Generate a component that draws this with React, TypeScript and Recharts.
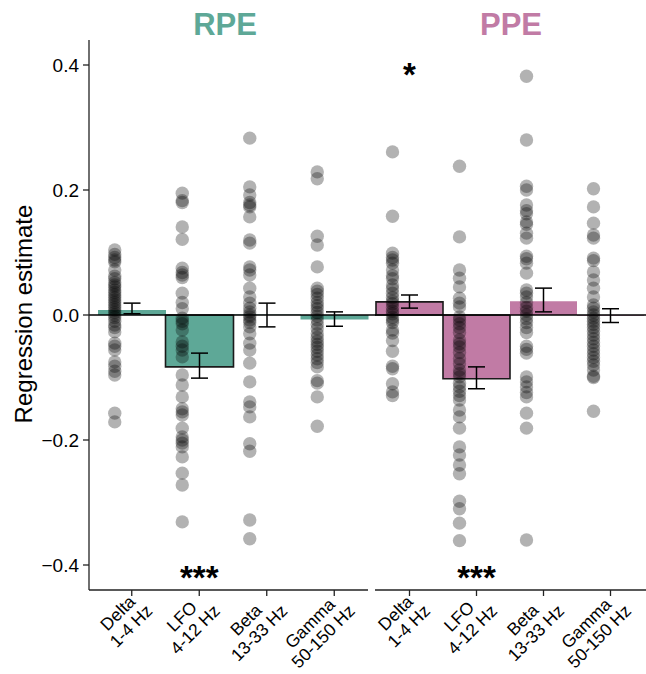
import React from 'react';
import { ComposedChart, Bar, Scatter, XAxis, YAxis, ReferenceLine, ErrorBar, Cell } from 'recharts';

const bandNames = ['Delta', 'LFO', 'Beta', 'Gamma'];
const bandRanges = ['1-4 Hz', '4-12 Hz', '13-33 Hz', '50-150 Hz'];
const yTicks = [-0.4, -0.2, 0, 0.2, 0.4];

// RPE panel
const rpeMeans = [0.008, -0.083, 0.001, -0.007];
const rpeLow = [0.002, -0.101, -0.019, -0.018];
const rpeHigh = [0.019, -0.061, 0.019, 0.005];
const rpeStars = ['', '***', '', ''];

const rpeDeltaPts = [0.104, 0.097, 0.092, 0.088, 0.085, 0.072, 0.062, 0.058, 0.052, 0.048, 0.045, 0.04, 0.036, 0.032, 0.028, 0.024, 0.02, 0.016, 0.012, 0.008, 0.004, 0.0, -0.004, -0.01, -0.016, -0.02, -0.027, -0.045, -0.05, -0.056, -0.075, -0.082, -0.09, -0.096, -0.157, -0.171];
const rpeLfoPts = [0.195, 0.183, 0.18, 0.141, 0.121, 0.075, 0.068, 0.064, 0.06, 0.035, 0.02, 0.01, -0.005, -0.01, -0.014, -0.024, -0.043, -0.05, -0.056, -0.067, -0.096, -0.112, -0.131, -0.15, -0.155, -0.16, -0.181, -0.195, -0.2, -0.205, -0.211, -0.227, -0.253, -0.272, -0.331];
const rpeBetaPts = [0.283, 0.205, 0.192, 0.18, 0.176, 0.173, 0.157, 0.12, 0.115, 0.077, 0.072, 0.064, 0.043, 0.029, 0.019, 0.011, 0.005, 0.0, -0.003, -0.008, -0.012, -0.019, -0.03, -0.045, -0.056, -0.077, -0.107, -0.139, -0.147, -0.163, -0.206, -0.218, -0.328, -0.358];
const rpeGammaPts = [0.229, 0.218, 0.126, 0.112, 0.077, 0.043, 0.038, 0.033, 0.027, 0.02, 0.015, 0.01, 0.004, -0.002, -0.008, -0.015, -0.022, -0.03, -0.036, -0.042, -0.047, -0.052, -0.058, -0.064, -0.07, -0.076, -0.083, -0.105, -0.109, -0.131, -0.178];

// PPE panel
const ppeMeans = [0.021, -0.102, 0.022, -0.001];
const ppeLow = [0.011, -0.118, 0.005, -0.012];
const ppeHigh = [0.032, -0.083, 0.043, 0.01];
const ppeStars = ['*', '***', '', ''];

const ppeDeltaPts = [0.261, 0.158, 0.099, 0.092, 0.088, 0.083, 0.072, 0.063, 0.058, 0.048, 0.042, 0.035, 0.028, 0.022, 0.018, 0.012, 0.006, 0.002, -0.004, -0.008, -0.012, -0.024, -0.029, -0.041, -0.058, -0.082, -0.086, -0.11, -0.123, -0.129];
const ppeLfoPts = [0.238, 0.125, 0.072, 0.059, 0.045, 0.027, 0.019, 0.013, -0.003, -0.008, -0.014, -0.02, -0.028, -0.04, -0.046, -0.051, -0.06, -0.07, -0.078, -0.088, -0.094, -0.099, -0.109, -0.115, -0.122, -0.129, -0.136, -0.152, -0.163, -0.181, -0.211, -0.224, -0.24, -0.254, -0.298, -0.31, -0.333, -0.361];
const ppeBetaPts = [0.382, 0.28, 0.206, 0.2, 0.176, 0.167, 0.162, 0.149, 0.145, 0.131, 0.123, 0.094, 0.09, 0.083, 0.067, 0.04, 0.035, 0.029, 0.02, 0.012, 0.006, 0.0, -0.006, -0.012, -0.02, -0.028, -0.05, -0.055, -0.061, -0.099, -0.107, -0.115, -0.124, -0.131, -0.157, -0.181, -0.36];
const ppeGammaPts = [0.202, 0.173, 0.147, 0.128, 0.123, 0.091, 0.087, 0.069, 0.056, 0.043, 0.029, 0.016, 0.011, 0.005, 0.0, -0.005, -0.01, -0.015, -0.02, -0.026, -0.032, -0.038, -0.044, -0.05, -0.056, -0.062, -0.068, -0.074, -0.08, -0.088, -0.098, -0.1, -0.154];

const RPE_COLOR = '#5ea897';
const PPE_COLOR = '#c17ba5';
const FONT = '"Liberation Sans", Arial, Helvetica, sans-serif';
const TICK_FONT = 17.5;
const POINT_NUDGE = -17;

const buildBars = (means: number[], low: number[], high: number[], stars: string[]) =>
  bandNames.map((band, i) => ({
    band,
    mean: means[i],
    err: [means[i] - low[i], high[i] - means[i]],
    sig: stars[i] !== '',
  }));

const buildPoints = (cols: number[][]) =>
  cols.flatMap((vals, i) => vals.map((y) => ({ band: bandNames[i], y })));

const buildStars = (means: number[], stars: string[]) =>
  bandNames
    .map((band, i) => ({ band, y: means[i] > 0 ? 0.395 : -0.41, label: stars[i] }))
    .filter((d) => d.label !== '');

let measureCtx: CanvasRenderingContext2D | null = null;
const textWidth = (s: string) => {
  if (!measureCtx) {
    measureCtx = document.createElement('canvas').getContext('2d');
  }
  if (!measureCtx) return s.length * TICK_FONT * 0.55;
  measureCtx.font = `${TICK_FONT}px ${FONT}`;
  return measureCtx.measureText(s).width;
};

const Dot = (props: any) => (
  <circle cx={props.cx + POINT_NUDGE} cy={props.cy} r={6.7} fill="#000" fillOpacity={0.3} />
);

const Star = (props: any) => (
  <text x={props.cx} y={props.cy + 18} textAnchor="middle" fontSize={33} fontWeight="bold" fill="#000" fontFamily={FONT}>
    {props.payload.label}
  </text>
);

// two-line label, lines centred on each other, block right edge at the anchor, rotated 45°
const BandTick = (props: any) => {
  const { x, y, payload } = props;
  const i = bandNames.indexOf(payload.value);
  const lines = [payload.value, bandRanges[i]];
  const w = Math.max(...lines.map(textWidth));
  return (
    <g transform={`translate(${x + 8.5},${y + 1})`}>
      <text transform="rotate(-45)" textAnchor="middle" fontSize={TICK_FONT} fill="#000" fontFamily={FONT}>
        <tspan x={-w / 2} y={0}>{lines[0]}</tspan>
        <tspan x={-w / 2} y={18.5}>{lines[1]}</tspan>
      </text>
    </g>
  );
};

const fmt = (v: number) => v.toFixed(1).replace('-', '\u2212');

const Panel = ({ bars, points, stars, color, width, left, showY, padding, zeroShape }: any) => (
  <div style={{ position: 'absolute', left, top: 0 }}>
    <ComposedChart
      width={width}
      height={674}
      data={bars}
      margin={{ top: 40, right: showY ? 8 : 0, bottom: 0, left: showY ? 0 : 15 }}
      barCategoryGap={0}
      barGap={0}
      style={{ overflow: 'visible' }}
    >
      <XAxis
        dataKey="band"
        type="category"
        allowDuplicatedCategory={false}
        interval={0}
        height={84}
        padding={padding}
        tick={<BandTick />}
        tickSize={6}
        tickMargin={2}
        axisLine={{ stroke: '#222', strokeWidth: 1.3 }}
        tickLine={{ stroke: '#222', strokeWidth: 1.3 }}
      />
      <YAxis
        hide={!showY}
        width={89}
        type="number"
        domain={[-0.44, 0.44]}
        ticks={yTicks}
        tickFormatter={fmt}
        tick={{ fontSize: 19, fill: '#000', fontFamily: FONT }}
        tickSize={6}
        tickMargin={4}
        axisLine={{ stroke: '#222', strokeWidth: 1.3 }}
        tickLine={{ stroke: '#222', strokeWidth: 1.3 }}
        allowDataOverflow
        label={{
          content: (p: any) => (
            <text
              transform={`translate(${p.viewBox.x + 23},${p.viewBox.y + p.viewBox.height / 2 - 1}) rotate(-90)`}
              textAnchor="middle"
              dominantBaseline="central"
              fontSize={24}
              fill="#000"
              fontFamily={FONT}
            >
              Regression estimate
            </text>
          ),
        }}
      />
      <Bar dataKey="mean" fill={color} isAnimationActive={false}>
        {bars.map((b: any, i: number) => (
          <Cell key={i} fill={color} stroke={b.sig ? '#1a1a1a' : 'none'} strokeWidth={1.6} />
        ))}
        <ErrorBar dataKey="err" width={8.5} stroke="#000" strokeWidth={1.5} isAnimationActive={false} />
      </Bar>
      <ReferenceLine y={0} stroke="#000" strokeWidth={1.3} shape={zeroShape} />
      <Scatter data={points} dataKey="y" shape={Dot} isAnimationActive={false} />
      <Scatter data={stars} dataKey="y" shape={Star} isAnimationActive={false} />
    </ComposedChart>
  </div>
);

const titleStyle = (color: string, center: number): React.CSSProperties => ({
  position: 'absolute',
  left: center - 60,
  width: 120,
  top: 10,
  textAlign: 'center',
  fontSize: 31,
  lineHeight: '30px',
  fontWeight: 'bold',
  color,
  fontFamily: FONT,
});

export default function App() {
  const rpeBars = buildBars(rpeMeans, rpeLow, rpeHigh, rpeStars);
  const ppeBars = buildBars(ppeMeans, ppeLow, ppeHigh, ppeStars);
  const rpePoints = buildPoints([rpeDeltaPts, rpeLfoPts, rpeBetaPts, rpeGammaPts]);
  const ppePoints = buildPoints([ppeDeltaPts, ppeLfoPts, ppeBetaPts, ppeGammaPts]);

  return (
    <div style={{ position: 'absolute', left: 0, top: 0, width: 646, height: 674, background: '#fff', fontFamily: FONT, overflow: 'hidden' }}>
      <Panel
        bars={rpeBars}
        points={rpePoints}
        stars={buildStars(rpeMeans, rpeStars)}
        color={RPE_COLOR}
        width={376}
        left={0}
        showY
        padding={{ left: 9, right: 0 }}
        zeroShape={(p: any) => <line x1={p.x1} y1={p.y1} x2={p.x2 + 8} y2={p.y2} stroke="#000" strokeWidth={1.3} />}
      />
      <Panel
        bars={ppeBars}
        points={ppePoints}
        stars={buildStars(ppeMeans, ppeStars)}
        color={PPE_COLOR}
        width={286}
        left={360}
        showY={false}
        padding={{ left: 1, right: 2 }}
      />
      <div style={titleStyle(RPE_COLOR, 225)}>RPE</div>
      <div style={titleStyle(PPE_COLOR, 511)}>PPE</div>
    </div>
  );
}
